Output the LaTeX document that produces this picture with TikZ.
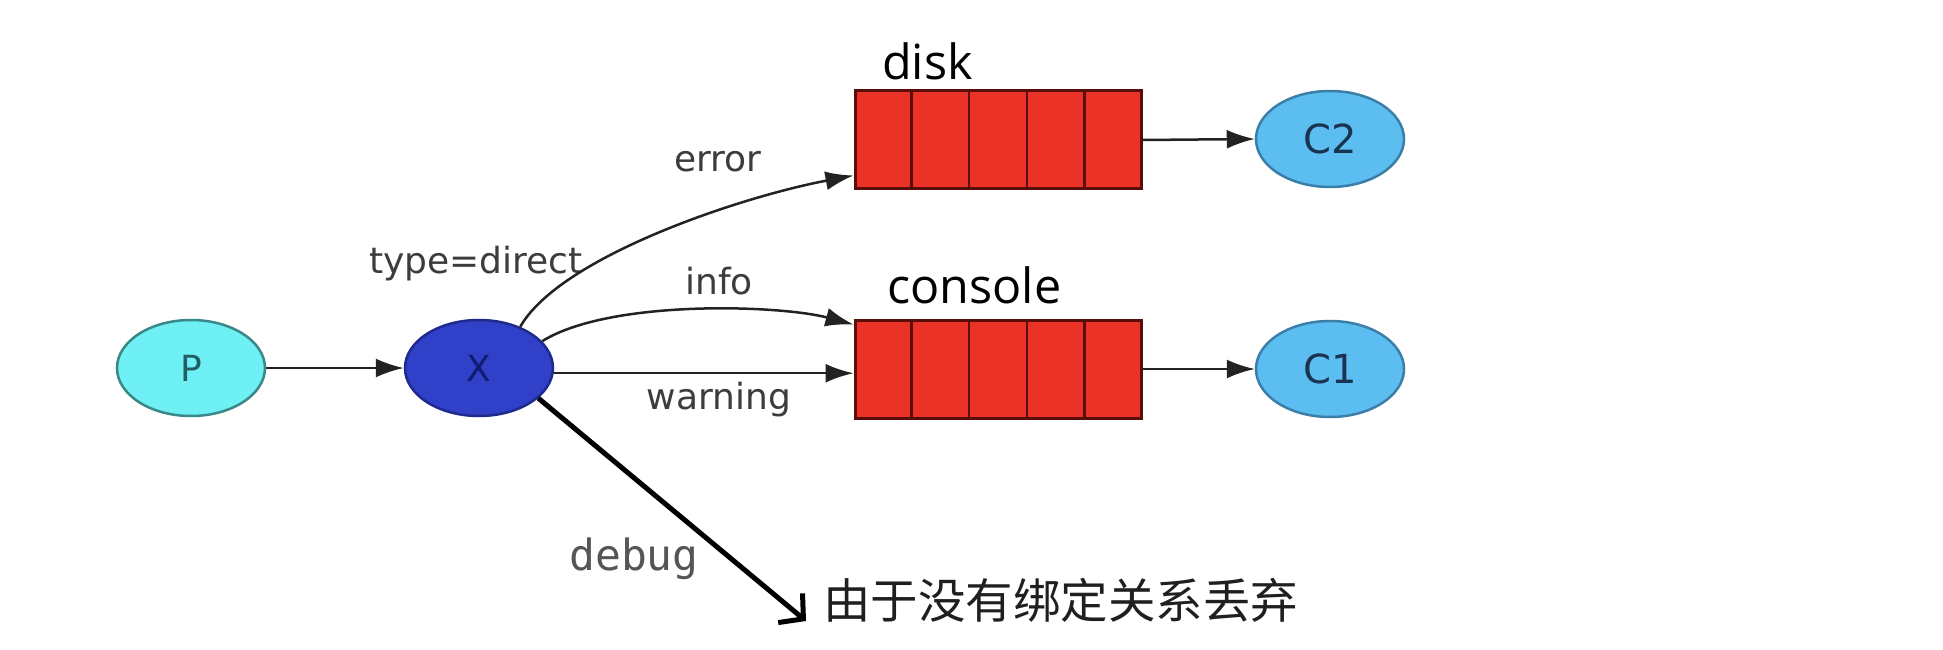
\documentclass[tikz,border=0pt]{standalone}
\usepackage{fontspec}
\usetikzlibrary{shapes.geometric,arrows.meta,calc}
\newfontfamily\lblfont{DejaVu Sans}
\newfontfamily\dbgfont{DejaVu Sans Mono}
\newfontfamily\qfont{Open Sans}
\newfontfamily\cjkfont{Noto Sans CJK SC}
\definecolor{pfill}{HTML}{6FF0F4}
\definecolor{pborder}{HTML}{3A8888}
\definecolor{ptext}{HTML}{1F5F66}
\definecolor{xfill}{HTML}{3040C8}
\definecolor{xborder}{HTML}{1E2A8C}
\definecolor{xtext}{HTML}{101C70}
\definecolor{cfill}{HTML}{5CBDF0}
\definecolor{cborder}{HTML}{3A7FA8}
\definecolor{ctext}{HTML}{1A3350}
\definecolor{qfill}{HTML}{EB3226}
\definecolor{qborder}{HTML}{5A0E0A}
\definecolor{lineclr}{HTML}{222222}
\definecolor{lblclr}{HTML}{3C3C3C}
\definecolor{dbgclr}{HTML}{555555}
\begin{document}
\begin{tikzpicture}[x=1pt,y=1pt,
  ell/.style={ellipse, minimum width=148pt, minimum height=96pt, inner sep=0pt, line width=2.5pt},
  queue/.style={draw=qborder, fill=qfill, line width=3pt, minimum width=286pt, minimum height=98pt, inner sep=0pt},
  divider/.style={draw=qborder, line width=2.5pt},
  conn/.style={draw=lineclr, line width=2.5pt, -{Latex[length=28pt,width=19pt]}},
  dbgarrow/.style={draw=black, line width=5pt, -{Straight Barb[length=17pt,width=38pt]}},
  lbl/.style={font=\lblfont\fontsize{36}{40}\selectfont, text=lblclr, inner sep=0pt, anchor=base},
  qlbl/.style={font=\qfont\fontsize{48.5}{52}\selectfont, text=black, inner sep=0pt, anchor=base west},
  nlbl/.style={font=\lblfont\fontsize{36}{40}\selectfont},
  clbl/.style={font=\lblfont\fontsize{40}{44}\selectfont, text=ctext}
]
\useasboundingbox[fill=white] (0,0) rectangle (1943,649);
% nodes
\node[ell, nlbl, draw=pborder, fill=pfill, text=ptext] (P) at (191,281) {P};
\node[ell, nlbl, draw=xborder, fill=xfill, text=xtext] (X) at (479,281) {X};
\node[queue] (disk) at (998,509) {};
\node[queue] (console) at (998,280) {};
\node[ell, clbl, draw=cborder, fill=cfill] (C2) at (1330,510) {C2};
\node[ell, clbl, draw=cborder, fill=cfill] (C1) at (1330,280) {C1};
\foreach \q in {disk,console}{
  \foreach \i in {1,2,3,4}{
    \draw[divider] ($(\q.north west)!\i/5!(\q.north east)$) -- ($(\q.south west)!\i/5!(\q.south east)$);
  }
}
% labels
\node[qlbl] (disklbl) at (882,569) {disk};
\node[qlbl] (conlbl) at (887,346) {console};
\node[lbl] (errlbl) at (718,477) {error};
\node[lbl] (typelbl) at (476,376) {type=direct};
\node[lbl] (infolbl) at (719,355) {info};
\node[lbl] (warnlbl) at (719,240) {warning};
\node[font=\dbgfont\fontsize{43}{46}\selectfont, text=dbgclr, anchor=base, inner sep=0pt] (dbglbl) at (634,79) {debug};
\node[font=\cjkfont\fontsize{47.5}{52}\selectfont, text=black!88, anchor=base west, inner sep=0pt] (drop) at (823,31) {由于没有绑定关系丢弃};
\coordinate (dropend) at (806,28);
% connectors
\draw[conn] (P.east) -- (X.west);
\draw[conn] (disk.east) -- (C2.west);
\draw[conn] (console.east) -- (C1.west);
\draw[conn] (X.45) .. controls (560,392) and (740,452) .. ($(disk.south west)+(0,15)$);
\draw[conn] (X.23) .. controls (610,350) and (780,344) .. ($(console.north west)+(0,-6)$);
\draw[conn] (X.-4) -- (X.-4 -| console.west);
\draw[dbgarrow] (X.-27) -- (dropend);
\end{tikzpicture}
\end{document}
